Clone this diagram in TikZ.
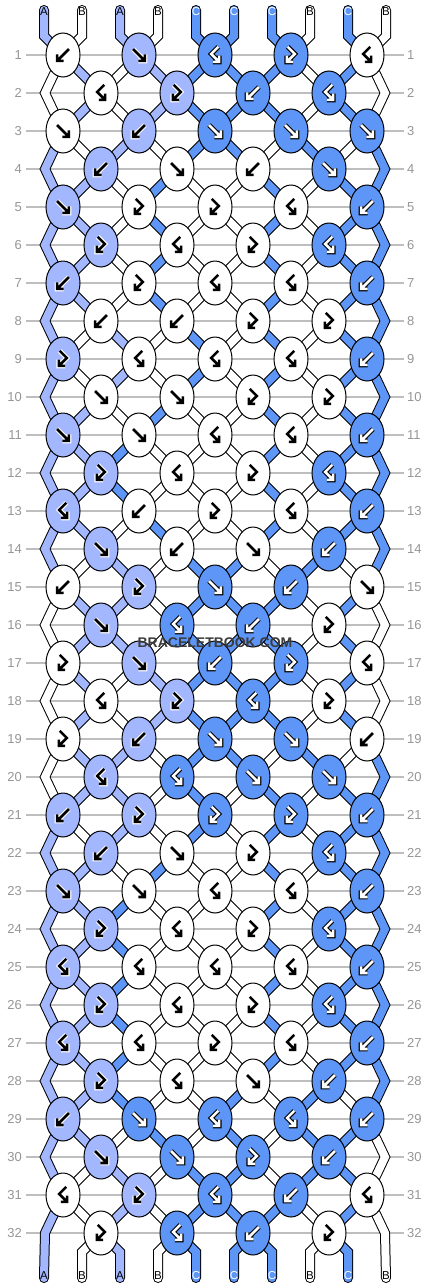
\documentclass[tikz,border=0pt]{standalone}
\usepackage{fontspec}
\setmainfont{Liberation Sans}
\usetikzlibrary{shapes.geometric}
\pgfdeclarelayer{bgl}
\pgfdeclarelayer{strl}
\pgfsetlayers{bgl,strl,main}
\definecolor{colA}{RGB}{163,183,255}
\definecolor{colB}{RGB}{255,255,255}
\definecolor{colC}{RGB}{94,150,247}
\definecolor{rowgrey}{RGB}{190,190,190}
\definecolor{numgrey}{RGB}{150,150,150}
\definecolor{wmgrey}{RGB}{60,60,60}
\colorlet{labA}{black}
\colorlet{labB}{black}
\colorlet{labC}{white}
\tikzset{
  knot/.style={ellipse, draw=black, line width=1pt, minimum width=34pt, minimum height=44pt, inner sep=0pt, outer sep=0pt},
  glo/.style={draw=\go, line width=4.8pt, line cap=butt, line join=miter, scale=1.08},
  gli/.style={draw=\gi, line width=2.6pt, line cap=butt, line join=miter, scale=1.08},
  rowline/.style={draw=rowgrey, line width=1.2pt},
  rownum/.style={text=numgrey, font=\fontsize{13}{14}\selectfont, inner sep=0pt},
  strlab/.style={font=\fontsize{11.5}{12}\selectfont, inner sep=0pt},
  wmark/.style={font=\bfseries\fontsize{14}{16}\selectfont, text=wmgrey, inner sep=0pt}
}
\def\setglA{\def\go{white}\def\gi{black}}
\def\setglB{\def\go{white}\def\gi{black}}
\def\setglC{\def\go{black}\def\gi{white}}
\newcommand\gF[2]{%
 \draw[shift={(#1,#2)},glo] (-5.5,-5.5) -- (4.6,4.6) (5.5,-0.5) -- (5.5,5.5) -- (-0.5,5.5);
 \draw[shift={(#1,#2)},gli] (-5.5,-5.5) -- (4.6,4.6) (5.5,-0.5) -- (5.5,5.5) -- (-0.5,5.5);}
\newcommand\gB[2]{%
 \draw[shift={(#1,#2)},glo] (5.5,-5.5) -- (-4.6,4.6) (-5.5,-0.5) -- (-5.5,5.5) -- (0.5,5.5);
 \draw[shift={(#1,#2)},gli] (5.5,-5.5) -- (-4.6,4.6) (-5.5,-0.5) -- (-5.5,5.5) -- (0.5,5.5);}
\newcommand\gFB[2]{%
 \draw[shift={(#1,#2)},glo] (-3,-7.5) -- (3.5,-1) -- (-3.2,5.8) (-3.8,0.6) -- (-3.8,6.4) -- (2,6.4);
 \draw[shift={(#1,#2)},gli] (-3,-7.5) -- (3.5,-1) -- (-3.2,5.8) (-3.8,0.6) -- (-3.8,6.4) -- (2,6.4);}
\newcommand\gBF[2]{%
 \draw[shift={(#1,#2)},glo] (3,-7.5) -- (-3.5,-1) -- (3.2,5.8) (3.8,0.6) -- (3.8,6.4) -- (-2,6.4);
 \draw[shift={(#1,#2)},gli] (3,-7.5) -- (-3.5,-1) -- (3.2,5.8) (3.8,0.6) -- (3.8,6.4) -- (-2,6.4);}
\def\knotlist{%
1/{B/B,F/A,BF/C,FB/C,BF/B},%
2/{BF/B,FB/A,B/C,BF/C},%
3/{F/B,B/A,F/C,F/C,F/C},%
4/{B/A,F/B,B/B,F/C},%
5/{F/A,FB/B,FB/B,BF/B,B/C},%
6/{FB/A,BF/B,FB/B,BF/C},%
7/{B/A,FB/B,BF/B,BF/B,B/C},%
8/{B/B,B/B,FB/B,FB/B},%
9/{FB/A,BF/B,BF/B,BF/B,B/C},%
10/{F/B,F/B,FB/B,FB/B},%
11/{F/A,F/B,BF/B,BF/B,B/C},%
12/{FB/A,BF/B,FB/B,BF/C},%
13/{BF/A,B/B,FB/B,BF/B,B/C},%
14/{F/A,B/B,F/B,B/C},%
15/{B/B,FB/A,F/C,B/C,F/B},%
16/{F/A,BF/C,B/C,FB/B},%
17/{FB/B,F/A,B/C,FB/C,BF/B},%
18/{BF/B,FB/A,BF/C,FB/B},%
19/{FB/B,B/A,F/C,F/C,B/B},%
20/{BF/A,BF/C,F/C,F/C},%
21/{B/A,FB/A,FB/C,FB/C,B/C},%
22/{B/A,F/B,FB/B,BF/C},%
23/{F/A,F/B,BF/B,BF/B,B/C},%
24/{FB/A,BF/B,FB/B,BF/C},%
25/{BF/A,BF/B,BF/B,BF/B,B/C},%
26/{FB/A,BF/B,FB/B,BF/C},%
27/{BF/A,BF/B,FB/B,BF/B,B/C},%
28/{FB/A,BF/B,F/B,B/C},%
29/{B/A,F/C,BF/C,BF/C,B/C},%
30/{F/A,F/C,FB/C,B/C},%
31/{BF/B,FB/A,BF/C,B/C,BF/B},%
32/{FB/B,BF/C,B/C,FB/B}}
\def\statelist{%
0/{A,B,A,B,C,C,C,B,C,B},%
1/{B,A,B,A,C,C,C,B,C,B},%
2/{B,A,B,A,C,C,C,B,C,B},%
3/{A,B,A,B,C,C,B,C,B,C},%
4/{A,A,B,C,B,B,C,B,C,C},%
5/{A,A,B,C,B,B,C,B,C,C},%
6/{A,A,B,C,B,B,C,B,C,C},%
7/{A,A,B,C,B,B,C,B,C,C},%
8/{A,B,A,B,C,B,C,B,C,C},%
9/{A,B,A,B,C,B,C,B,C,C},%
10/{A,A,B,C,B,B,C,B,C,C},%
11/{A,A,C,B,B,B,C,B,C,C},%
12/{A,A,C,B,B,B,C,B,C,C},%
13/{A,A,B,C,B,B,C,B,C,C},%
14/{A,B,A,B,C,C,B,C,B,C},%
15/{B,A,A,B,C,C,C,B,C,B},%
16/{B,A,A,B,C,C,C,B,C,B},%
17/{B,A,B,A,C,C,C,B,C,B},%
18/{B,A,B,A,C,C,C,B,C,B},%
19/{B,A,A,B,C,C,B,C,B,C},%
20/{B,A,A,B,C,B,C,B,C,C},%
21/{A,B,A,B,C,B,C,B,C,C},%
22/{A,A,B,C,B,B,C,B,C,C},%
23/{A,A,C,B,B,B,C,B,C,C},%
24/{A,A,C,B,B,B,C,B,C,C},%
25/{A,A,C,B,B,B,C,B,C,C},%
26/{A,A,C,B,B,B,C,B,C,C},%
27/{A,A,C,B,B,B,C,B,C,C},%
28/{A,A,C,B,B,C,B,C,B,C},%
29/{A,A,B,C,B,C,B,C,C,B},%
30/{A,B,A,B,C,C,B,C,C,B},%
31/{A,B,A,B,C,C,C,B,C,B},%
32/{A,B,A,B,C,C,C,B,C,B}}
\newcommand\drawstrings[1]{%
  \foreach \rw/\st in \statelist {%
    \foreach \cc [count=\pp from 0] in \st {%
      \ifnum#1=0 \def\wd{10pt}\def\cl{black}\else\def\wd{8pt}\def\cl{col\cc}\fi
      \pgfmathtruncatemacro\rn{\rw+1}%
      \pgfmathtruncatemacro\rnn{\rw+2}%
      \pgfmathtruncatemacro\jo{floor(\pp/2)}%
      \pgfmathtruncatemacro\je{floor((\pp-1)/2)}%
      \tikzset{cur/.style={draw=\cl, line width=\wd, line cap=round, line join=miter}}%
      \ifnum\rw=0
        \draw[cur] (s-\pp) -- (t-\pp) -- (k-1-\jo.center);
      \else\ifnum\rw=32
        \ifnum\pp>0 \ifnum\pp<9
          \draw[cur] (k-32-\je.center) -- (b-\pp) -- (z-\pp);
        \fi\fi
      \else\ifodd\rw
        \ifnum\pp=0
          \ifnum\rw=31 \draw[cur] (k-31-0.center) -- (e-32-L) -- (z-0);
          \else \draw[cur] (k-\rw-0.center) -- (e-\rn-L) -- (k-\rnn-0.center);\fi
        \else\ifnum\pp=9
          \ifnum\rw=31 \draw[cur] (k-31-4.center) -- (e-32-R) -- (z-9);
          \else \draw[cur] (k-\rw-4.center) -- (e-\rn-R) -- (k-\rnn-4.center);\fi
        \else
          \draw[cur] (k-\rw-\jo.center) -- (k-\rn-\je.center);
        \fi\fi
      \else
        \ifnum\pp>0 \ifnum\pp<9
          \draw[cur] (k-\rw-\je.center) -- (k-\rn-\jo.center);
        \fi\fi
      \fi\fi\fi
    }%
  }%
}
\begin{document}
\begin{tikzpicture}[x=1pt,y=-1pt]
\useasboundingbox (0,0) rectangle (430,1288);
\begin{pgfonlayer}{bgl}
\fill[white] (0,0) rectangle (430,1288);
\end{pgfonlayer}
% row numbers and guide lines
\foreach \rw in {1,...,32} {%
  \pgfmathsetmacro\yy{55+38*(\rw-1)}%
  \node[rownum, anchor=east] (nl-\rw) at (22,\yy) {\rw};
  \node[rownum, anchor=west] (nr-\rw) at (407,\yy) {\rw};
  \begin{pgfonlayer}{bgl}
  \draw[rowline] ([xshift=4pt]nl-\rw.east) -- ([xshift=-3pt]nr-\rw.west);
  \end{pgfonlayer}
}
% string ends and labels
\foreach \cc [count=\pp from 0] in {A,B,A,B,C,C,C,B,C,B} {%
  \pgfmathsetmacro\xs{44+38*\pp}%
  \coordinate (s-\pp) at (\xs,10);
  \coordinate (t-\pp) at (\xs,36);
  \coordinate (b-\pp) at (\xs,1252);
  \coordinate (z-\pp) at (\xs,1278);
  \node[strlab, text=lab\cc] (lt-\pp) at (\xs,11.5) {\cc};
  \node[strlab, text=lab\cc] (lb-\pp) at (\xs,1276) {\cc};
}
% knots
\foreach \rw/\ks in \knotlist {%
  \pgfmathsetmacro\yy{55+38*(\rw-1)}%
  \foreach \kt/\cc [count=\jj from 0] in \ks {%
    \ifodd\rw \pgfmathsetmacro\xx{63+76*\jj}\else\pgfmathsetmacro\xx{101+76*\jj}\fi
    \node[knot, fill=col\cc] (k-\rw-\jj) at (\xx,\yy) {};
    \csname setgl\cc\endcsname
    \csname g\kt\endcsname{\xx}{\yy}%
  }%
  \ifodd\rw\else
    \coordinate (e-\rw-L) at (45,\yy);
    \coordinate (e-\rw-R) at (385,\yy);
  \fi
}
% strings
\begin{pgfonlayer}{strl}
\drawstrings{0}
\drawstrings{1}
\end{pgfonlayer}
\node[wmark] (wm) at (215,643) {BRACELETBOOK.COM};
\end{tikzpicture}
\end{document}
